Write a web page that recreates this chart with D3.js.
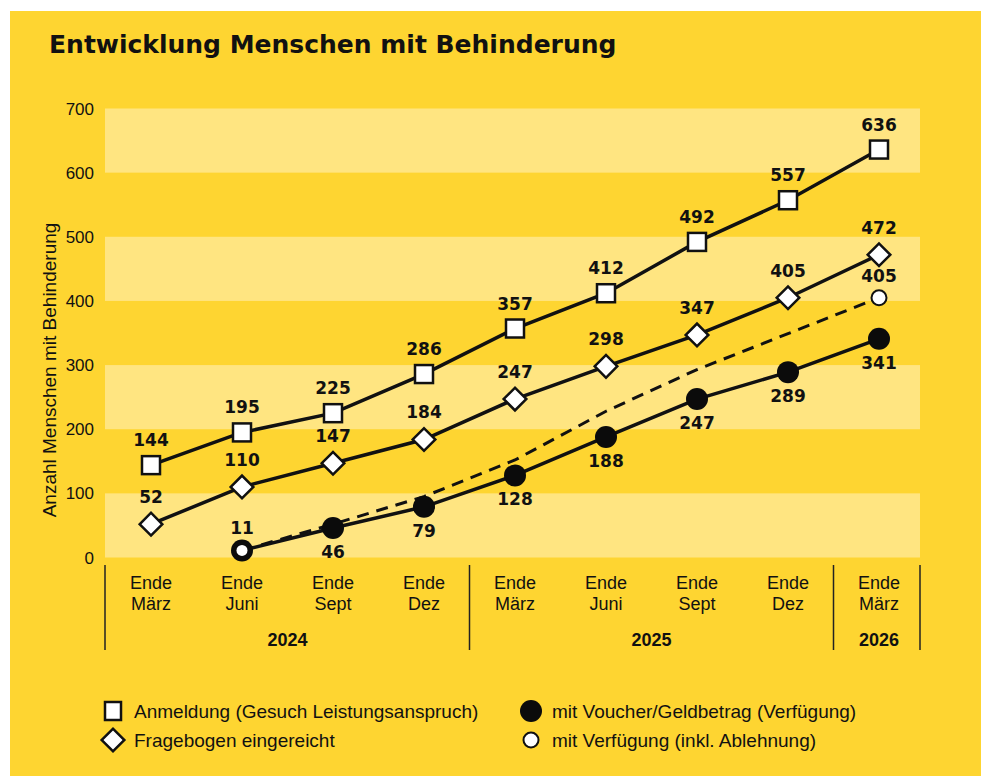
<!DOCTYPE html>
<html>
<head>
<meta charset="utf-8">
<script src="https://cdn.jsdelivr.net/npm/d3@7"></script>
<style>
  body { margin: 0; background: #fff; }
  text { font-family: "Liberation Sans", Arial, sans-serif; fill: #111; }
</style>
</head>
<body>
<svg id="chart" width="981" height="780"></svg>
<script>
const months = ["März", "Juni", "Sept", "Dez", "März", "Juni", "Sept", "Dez", "März"];
const years = [
    { year: "2024", from: 0, to: 3 },
    { year: "2025", from: 4, to: 7 },
    { year: "2026", from: 8, to: 8 }
];
const yTicks = [0, 100, 200, 300, 400, 500, 600, 700];

const anmeldung = [144, 195, 225, 286, 357, 412, 492, 557, 636];
const fragebogen = [52, 110, 147, 184, 247, 298, 347, 405, 472];
const voucher = [null, 11, 46, 79, 128, 188, 247, 289, 341];
const verfuegung = [null, 11, 52, 95, 152, 228, 293, 349, 405];
const verfuegungLabeled = [1, 8];

const yellow = "#fed531", light = "#ffe581";

const svg = d3.select("#chart");

svg.append("rect")
    .attr("x", 10).attr("y", 11)
    .attr("width", 971).attr("height", 765)
    .attr("fill", yellow);

svg.append("text")
    .attr("x", 49).attr("y", 53)
    .style("font-family", "'DejaVu Sans', sans-serif")
    .style("font-size", "25px")
    .style("font-weight", "bold")
    .text("Entwicklung Menschen mit Behinderung");

const left = 105, right = 920;
const x = d3.scalePoint()
    .domain(d3.range(months.length))
    .range([151, 879]);
const y = d3.scaleLinear()
    .domain([0, 700])
    .range([557.5, 108.5]);

// light bands
svg.selectAll(".band")
    .data([0, 200, 400, 600])
    .enter().append("rect")
    .attr("x", left)
    .attr("width", right - left)
    .attr("y", d => y(d + 100))
    .attr("height", d => y(d) - y(d + 100))
    .attr("fill", light);

// y axis labels
svg.selectAll(".ytick")
    .data(yTicks)
    .enter().append("text")
    .attr("x", 94)
    .attr("y", d => y(d) + 6)
    .attr("text-anchor", "end")
    .style("font-size", "17px")
    .text(d => d);

svg.append("text")
    .attr("transform", "translate(56,370) rotate(-90)")
    .attr("text-anchor", "middle")
    .style("font-size", "19px")
    .text("Anzahl Menschen mit Behinderung");

// x labels
const xl = svg.selectAll(".xlab")
    .data(months)
    .enter().append("text")
    .attr("text-anchor", "middle")
    .style("font-size", "18px");
xl.append("tspan").attr("x", (d, i) => x(i)).attr("y", 589).text("Ende");
xl.append("tspan").attr("x", (d, i) => x(i)).attr("y", 610).text(d => d);

const step = x.step();
const seps = [left].concat(years.slice(0, -1).map(g => x(g.to) + step / 2), [right]);
svg.selectAll(".sep")
    .data(seps)
    .enter().append("line")
    .attr("x1", d => d).attr("x2", d => d)
    .attr("y1", 565).attr("y2", 650)
    .attr("stroke", "#222")
    .attr("stroke-width", 1.5);

svg.selectAll(".year")
    .data(years)
    .enter().append("text")
    .attr("x", d => (x(d.from) + x(d.to)) / 2)
    .attr("y", 646)
    .attr("text-anchor", "middle")
    .style("font-size", "18px")
    .style("font-weight", "bold")
    .text(d => d.year);

// lines
const line = d3.line()
    .defined(d => d != null)
    .x((d, i) => x(i))
    .y(d => y(d));

svg.append("path")
    .attr("d", line(verfuegung))
    .attr("fill", "none")
    .attr("stroke", "#111")
    .attr("stroke-width", 3)
    .attr("stroke-dasharray", "12,8");

[anmeldung, fragebogen, voucher].forEach(s => {
    svg.append("path")
        .attr("d", line(s))
        .attr("fill", "none")
        .attr("stroke", "#111")
        .attr("stroke-width", 3.5);
});

const pts = s => s.map((v, i) => ({ v, i })).filter(d => d.v != null);

// markers
svg.selectAll(".sq")
    .data(pts(anmeldung))
    .enter().append("rect")
    .attr("x", d => x(d.i) - 9).attr("y", d => y(d.v) - 9)
    .attr("width", 18).attr("height", 18)
    .attr("fill", "#fff").attr("stroke", "#111").attr("stroke-width", 2.5);

svg.selectAll(".dia")
    .data(pts(fragebogen))
    .enter().append("rect")
    .attr("x", -8).attr("y", -8)
    .attr("width", 16).attr("height", 16)
    .attr("transform", d => `translate(${x(d.i)},${y(d.v)}) rotate(45)`)
    .attr("fill", "#fff").attr("stroke", "#111").attr("stroke-width", 2.5);

svg.selectAll(".dot")
    .data(pts(voucher))
    .enter().append("circle")
    .attr("cx", d => x(d.i)).attr("cy", d => y(d.v))
    .attr("r", 11)
    .attr("fill", "#0b0b0b");

svg.selectAll(".odot")
    .data(pts(verfuegung).filter(d => verfuegungLabeled.includes(d.i)))
    .enter().append("circle")
    .attr("cx", d => x(d.i)).attr("cy", d => y(d.v))
    .attr("r", d => d.i === 1 ? 5.5 : 7.5)
    .attr("fill", "#fff").attr("stroke", "#111").attr("stroke-width", d => d.i === 1 ? 0 : 2);

// value labels
function labels(data, dy) {
    svg.selectAll(null)
        .data(data)
        .enter().append("text")
        .attr("x", d => x(d.i))
        .attr("y", d => y(d.v) + dy)
        .attr("text-anchor", "middle")
        .style("font-family", "'DejaVu Sans', sans-serif")
        .style("font-size", "17px")
        .style("font-weight", "bold")
        .text(d => d.v);
}
labels(pts(anmeldung), -19);
labels(pts(fragebogen), -21);
labels(pts(voucher).filter(d => d.i > 1), 30);
labels(pts(verfuegung).filter(d => verfuegungLabeled.includes(d.i)), -16);

// legend
const legend = [
    { label: "Anmeldung (Gesuch Leistungsanspruch)", mark: "sq", lx: 113, ly: 711 },
    { label: "Fragebogen eingereicht", mark: "dia", lx: 113, ly: 740 },
    { label: "mit Voucher/Geldbetrag (Verfügung)", mark: "dot", lx: 531, ly: 711 },
    { label: "mit Verfügung (inkl. Ablehnung)", mark: "odot", lx: 531, ly: 740 }
];
const lg = svg.selectAll(".leg")
    .data(legend)
    .enter().append("g")
    .attr("transform", d => `translate(${d.lx},${d.ly})`);
lg.each(function(d) {
    const g = d3.select(this);
    if (d.mark === "sq") {
        g.append("rect").attr("x", -8).attr("y", -9).attr("width", 16).attr("height", 18)
            .attr("fill", "#fff").attr("stroke", "#111").attr("stroke-width", 2.5);
    } else if (d.mark === "dia") {
        g.append("rect").attr("x", -8).attr("y", -8).attr("width", 16).attr("height", 16)
            .attr("transform", "rotate(45)")
            .attr("fill", "#fff").attr("stroke", "#111").attr("stroke-width", 2.5);
    } else if (d.mark === "dot") {
        g.append("circle").attr("r", 11).attr("fill", "#0b0b0b");
    } else {
        g.append("circle").attr("r", 7.5).attr("fill", "#fff").attr("stroke", "#111").attr("stroke-width", 2);
    }
    g.append("text")
        .attr("x", 21)
        .attr("y", 7)
        .style("font-size", "19px")
        .text(d.label);
});
</script>
</body>
</html>
